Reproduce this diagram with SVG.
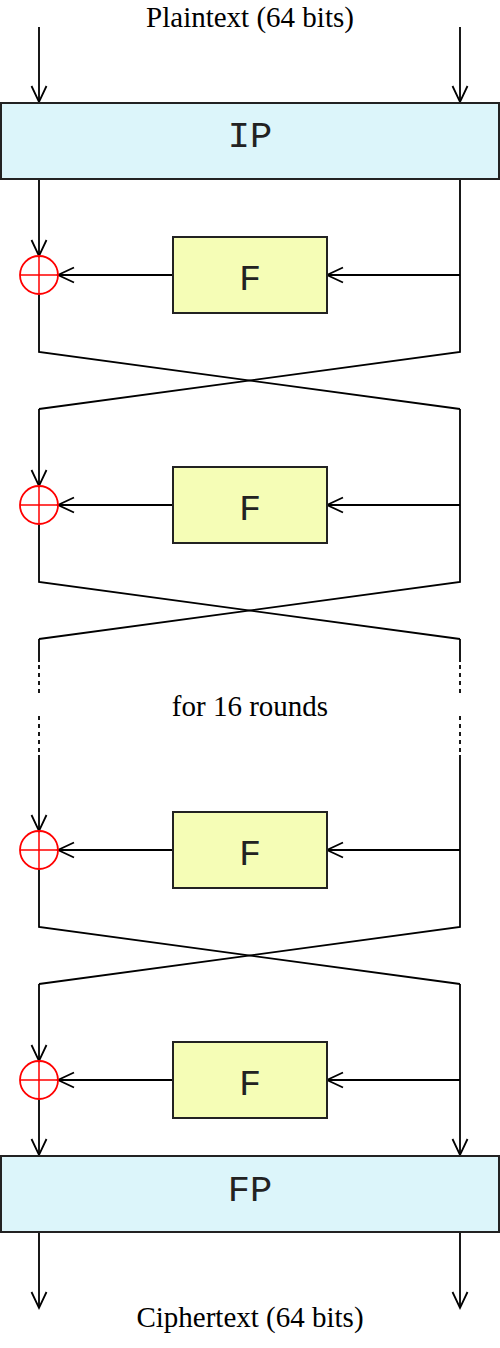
<svg xmlns="http://www.w3.org/2000/svg" width="500" height="1348" viewBox="0 0 500 1348">
<defs>
<marker id="arr" markerUnits="userSpaceOnUse" markerWidth="20" markerHeight="20" viewBox="-18 -10 20 20" refX="0" refY="0" orient="auto" overflow="visible">
<path d="M-16,-7.5 L0,0 L-16,7.5" fill="none" stroke="#000" stroke-width="1.8"/>
</marker>
</defs>
<style>
.ln{fill:none;stroke:#000;stroke-width:1.8}
.ar{fill:none;stroke:#000;stroke-width:1.8;marker-end:url(#arr)}
.ds{fill:none;stroke:#000;stroke-width:1.8;stroke-dasharray:4 4}
.perm{fill:#dcf5fa;stroke:#222;stroke-width:2}
.fbox{fill:#f5fdb6;stroke:#222;stroke-width:2}
.xor circle{fill:none;stroke:#f00;stroke-width:1.8}
.xor path{fill:none;stroke:#f00;stroke-width:1.5}
.lbl{font-family:"Liberation Serif","Times New Roman",serif;font-size:29px;fill:#000;text-anchor:middle}
.mono{font-family:"Liberation Mono","Courier New",monospace;font-size:37px;fill:#222;text-anchor:middle}
</style>
<rect width="500" height="1348" fill="#fff"/>
<g id="labels">
<text class="lbl" x="250" y="27">Plaintext (64 bits)</text>
<text class="lbl" x="250" y="716">for 16 rounds</text>
<text class="lbl" x="250" y="1327">Ciphertext (64 bits)</text>
</g>
<g id="connectors">
<path class="ar" d="M39,27 V102"/>
<path class="ar" d="M460,27 V102"/>
<!-- round 1 -->
<path class="ar" d="M39,179 V256"/>
<path class="ar" d="M173,275 H58"/>
<path class="ar" d="M460,275 H327"/>
<path class="ln" d="M460,179 V352 L39,409"/>
<path class="ln" d="M39,294 V352 L460,409"/>
<!-- round 2 -->
<path class="ar" d="M39,409 V486"/>
<path class="ar" d="M173,505 H58"/>
<path class="ar" d="M460,505 H327"/>
<path class="ln" d="M460,409 V582 L39,639"/>
<path class="ln" d="M39,524 V582 L460,639"/>
<!-- ellipsis -->
<path class="ln" d="M39,639 V662 M460,639 V662"/>
<path class="ds" d="M39,665 V693 M460,665 V693"/>
<path class="ds" d="M39,716 V752 M460,716 V752"/>
<!-- round 3 -->
<path class="ar" d="M39,755 V831"/>
<path class="ar" d="M173,850 H58"/>
<path class="ar" d="M460,850 H327"/>
<path class="ln" d="M460,755 V927 L39,984"/>
<path class="ln" d="M39,869 V927 L460,984"/>
<!-- round 4 -->
<path class="ar" d="M39,984 V1061"/>
<path class="ar" d="M173,1080 H58"/>
<path class="ar" d="M460,1080 H327"/>
<path class="ar" d="M460,984 V1155"/>
<path class="ar" d="M39,1099 V1155"/>
<!-- output -->
<path class="ar" d="M39,1233 V1308"/>
<path class="ar" d="M460,1233 V1308"/>
</g>
<g id="IP">
<rect class="perm" x="1" y="103" width="498" height="76"/>
<text class="mono" x="250" y="147">IP</text>
</g>
<g id="F1">
<rect class="fbox" x="173" y="237" width="154" height="76"/>
<text class="mono" x="250" y="290">F</text>
</g>
<g id="XOR1" class="xor">
<circle cx="39" cy="275" r="19"/>
<path d="M20,275 H58 M39,256 V294"/>
</g>
<g id="F2">
<rect class="fbox" x="173" y="467" width="154" height="76"/>
<text class="mono" x="250" y="520">F</text>
</g>
<g id="XOR2" class="xor">
<circle cx="39" cy="505" r="19"/>
<path d="M20,505 H58 M39,486 V524"/>
</g>
<g id="F3">
<rect class="fbox" x="173" y="812" width="154" height="76"/>
<text class="mono" x="250" y="865">F</text>
</g>
<g id="XOR3" class="xor">
<circle cx="39" cy="850" r="19"/>
<path d="M20,850 H58 M39,831 V869"/>
</g>
<g id="F4">
<rect class="fbox" x="173" y="1042" width="154" height="76"/>
<text class="mono" x="250" y="1095">F</text>
</g>
<g id="XOR4" class="xor">
<circle cx="39" cy="1080" r="19"/>
<path d="M20,1080 H58 M39,1061 V1099"/>
</g>
<g id="FP">
<rect class="perm" x="1" y="1156" width="498" height="76"/>
<text class="mono" x="250" y="1201">FP</text>
</g>
</svg>
